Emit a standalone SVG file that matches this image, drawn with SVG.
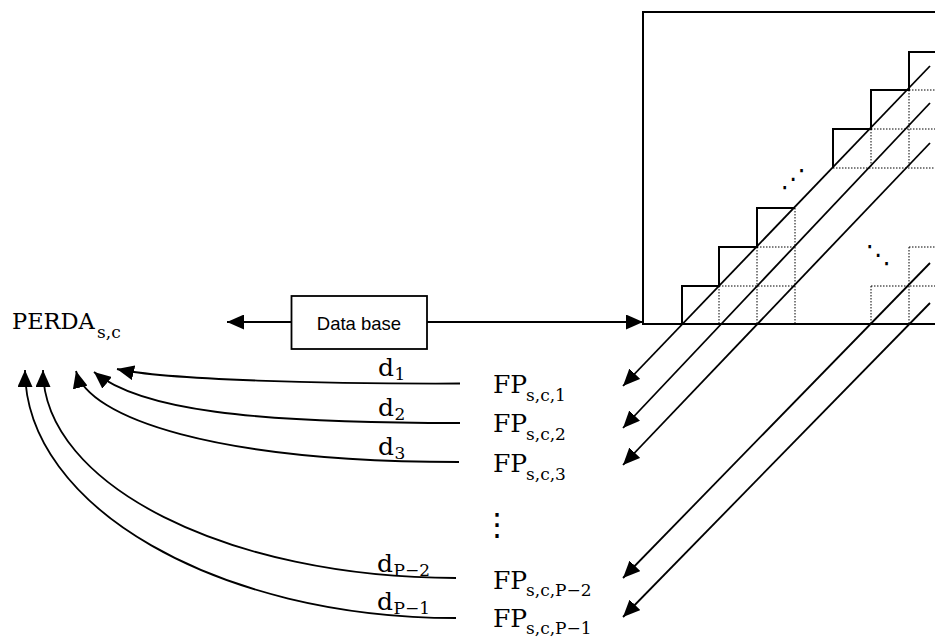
<svg xmlns="http://www.w3.org/2000/svg" width="935" height="638" viewBox="0 0 935 638">
<style>
.stair{fill:none;stroke:#000;stroke-width:2}
.dot{fill:none;stroke:#000;stroke-width:1;stroke-dasharray:1.5 1.5}
.arr{fill:none;stroke:#000;stroke-width:1.8;marker-end:url(#ah)}
.m{font-family:"DejaVu Serif","Liberation Serif",serif;fill:#000}
.sub{font-size:17px}
.big{font-size:25px}
.sans{font-family:"Liberation Sans",Arial,sans-serif;font-size:18.5px;fill:#000}
.ell{font-family:"DejaVu Sans",sans-serif;fill:#000}
</style>
<defs>
<marker id="ah" markerUnits="userSpaceOnUse" markerWidth="17" markerHeight="15" viewBox="0 0 17 15" refX="17" refY="7.5" orient="auto">
<path d="M0,0 L17,7.5 L0,15 z" fill="#000"/>
</marker>
</defs>
<rect width="935" height="638" fill="#fff"/>

<g id="matrix">
<rect x="643" y="12" width="300" height="312" class="stair"/>
<polyline class="stair" points="833,168 833,129 871,129 871,90 909,90 909,52 940,52"/>
<polyline class="stair" points="682,324 682,286 719,286 719,247 757,247 757,208 795,208"/>
<g class="dot">
<line x1="833" y1="168" x2="935" y2="168"/>
<line x1="871" y1="129" x2="935" y2="129"/>
<line x1="909" y1="90" x2="935" y2="90"/>
<line x1="871" y1="129" x2="871" y2="168"/>
<line x1="909" y1="90" x2="909" y2="168"/>
<line x1="795" y1="208" x2="795" y2="324"/>
<line x1="757" y1="247" x2="795" y2="247"/>
<line x1="719" y1="286" x2="795" y2="286"/>
<line x1="719" y1="286" x2="719" y2="324"/>
<line x1="757" y1="247" x2="757" y2="324"/>
<line x1="871" y1="286" x2="871" y2="324"/>
<line x1="909" y1="247" x2="909" y2="324"/>
<line x1="871" y1="286" x2="935" y2="286"/>
<line x1="909" y1="247" x2="935" y2="247"/>
</g>
<text class="ell" x="793" y="187" font-size="25" text-anchor="middle">⋰</text>
<text class="ell" x="878" y="263" font-size="25" text-anchor="middle">⋱</text>
</g>

<g id="database">
<rect x="291.5" y="296" width="135.5" height="53" fill="#fff" stroke="#000" stroke-width="1.8"/>
<text class="sans" x="359" y="330" text-anchor="middle">Data base</text>
</g>

<g id="perda">
<text class="m" x="12" y="329" font-size="22.5">PERDA</text>
<text class="m sub" x="97" y="338">s,c</text>
</g>

<g id="fp1"><text class="m big" x="493" y="393">FP</text><text class="m sub" x="526" y="400.5">s,c,1</text></g>
<g id="fp2"><text class="m big" x="493" y="432">FP</text><text class="m sub" x="526" y="439.5">s,c,2</text></g>
<g id="fp3"><text class="m big" x="493" y="472">FP</text><text class="m sub" x="526" y="479.5">s,c,3</text></g>
<g id="vdots"><text class="ell" x="497" y="535" font-size="31" text-anchor="middle">⋮</text></g>
<g id="fpp2"><text class="m big" x="493" y="589">FP</text><text class="m sub" x="526" y="596">s,c,P−2</text></g>
<g id="fpp1"><text class="m big" x="493" y="627">FP</text><text class="m sub" x="526" y="634">s,c,P−1</text></g>

<g id="connectors">
<line class="arr" x1="291.5" y1="322" x2="227" y2="322"/>
<line class="arr" x1="427" y1="322" x2="643" y2="322"/>
<line class="arr" x1="930" y1="66" x2="623" y2="386"/>
<line class="arr" x1="930" y1="103" x2="623" y2="428"/>
<line class="arr" x1="930" y1="143" x2="623" y2="465"/>
<line class="arr" x1="930" y1="263" x2="623" y2="578"/>
<line class="arr" x1="930" y1="303" x2="623" y2="617"/>
<path class="arr" d="M460,383.5 C330,384 165,380 117,369"/>
<path class="arr" d="M460,423 C250,423 140,410 94,372"/>
<path class="arr" d="M459,462 C215,462 88,418 76,371"/>
<path class="arr" d="M456,578 C228,578 43,485 43,370"/>
<path class="arr" d="M456,618 C218,618 25,507 25,370"/>
<text class="m big" x="378" y="376">d</text><text class="m sub" x="394.5" y="379.5">1</text>
<text class="m big" x="378" y="416">d</text><text class="m sub" x="394.5" y="419.5">2</text>
<text class="m big" x="378" y="455">d</text><text class="m sub" x="394.5" y="458.5">3</text>
<text class="m big" x="377" y="572">d</text><text class="m sub" x="393.5" y="575.5">P−2</text>
<text class="m big" x="377" y="610">d</text><text class="m sub" x="393.5" y="613.5">P−1</text>
</g>
</svg>
